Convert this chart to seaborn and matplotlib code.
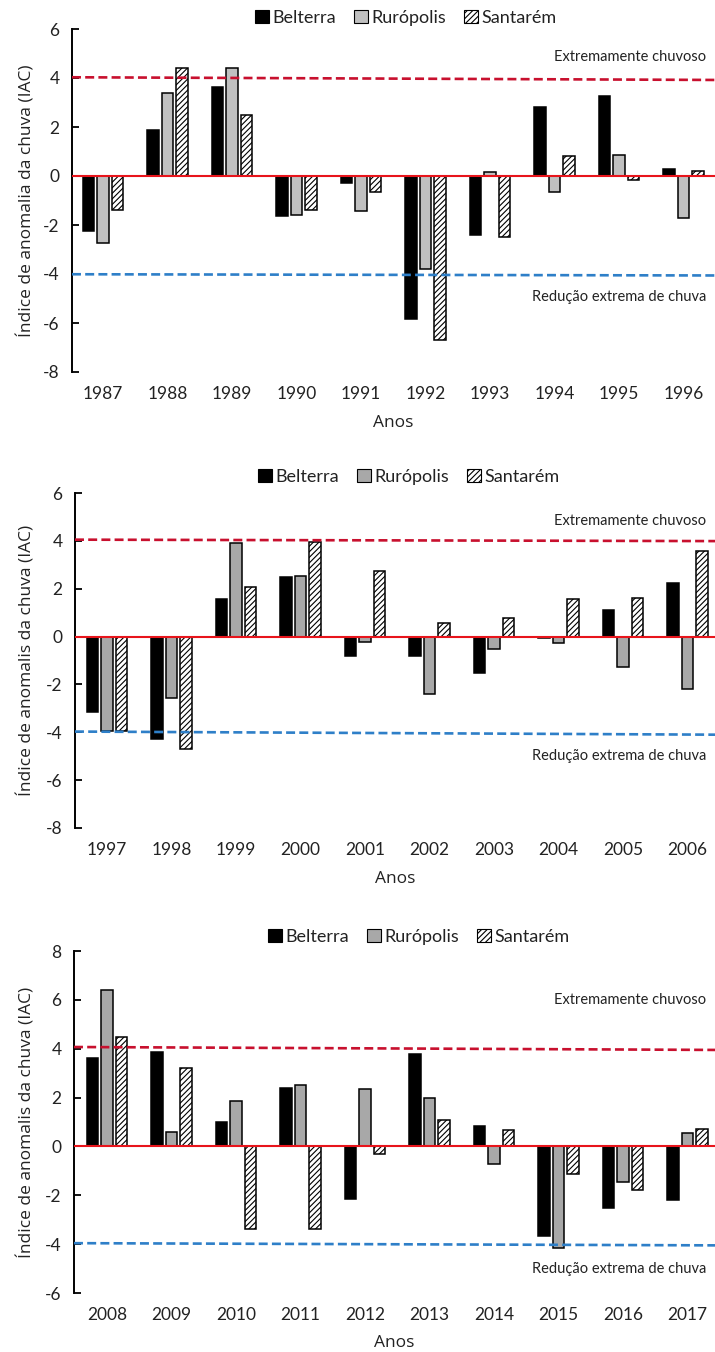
import numpy as np
import pandas as pd
import matplotlib
matplotlib.use("Agg")
import matplotlib.pyplot as plt
from matplotlib.patches import Patch
import seaborn as sns

# ---------------- data ----------------
estacoes = ["Belterra", "Rurópolis", "Santarém"]

anos_1 = ["1987", "1988", "1989", "1990", "1991", "1992", "1993", "1994", "1995", "1996"]
belterra_1 = [-2.25, 1.87, 3.65, -1.63, -0.30, -5.85, -2.40, 2.80, 3.25, 0.27]
ruropolis_1 = [-2.73, 3.38, 4.40, -1.58, -1.44, -3.81, 0.15, -0.64, 0.85, -1.70]
santarem_1 = [-1.38, 4.40, 2.48, -1.38, -0.64, -6.68, -2.47, 0.82, -0.18, 0.22]

anos_2 = ["1997", "1998", "1999", "2000", "2001", "2002", "2003", "2004", "2005", "2006"]
belterra_2 = [-3.16, -4.27, 1.58, 2.48, -0.83, -0.83, -1.52, -0.07, 1.09, 2.24]
ruropolis_2 = [-3.94, -2.56, 3.90, 2.55, -0.21, -2.41, -0.53, -0.28, -1.27, -2.20]
santarem_2 = [-3.94, -4.69, 2.06, 3.97, 2.76, 0.55, 0.77, 1.57, 1.61, 3.58]

anos_3 = ["2008", "2009", "2010", "2011", "2012", "2013", "2014", "2015", "2016", "2017"]
belterra_3 = [3.62, 3.85, 1.02, 2.39, -2.14, 3.77, 0.85, -3.67, -2.51, -2.21]
ruropolis_3 = [6.40, 0.58, 1.87, 2.50, 2.37, 1.98, -0.70, -4.16, -1.46, 0.57]
santarem_3 = [4.49, 3.23, -3.39, -3.39, -0.30, 1.08, 0.69, -1.12, -1.80, 0.73]

# reference lines (value at left end, value at right end), as drawn in the picture
extremo_chuvoso = [[4.03, 3.92], [4.05, 3.99], [4.07, 3.95]]
extremo_seco = [[-4.01, -4.06], [-3.97, -4.10], [-3.96, -4.05]]

ylabels = ["Índice de anomalia da chuva (IAC)",
           "Índice de anomalis da chuva (IAC)",
           "Índice de anomalis da chuva (IAC)"]
yticks = [[6, 4, 2, 0, -2, -4, -6, -8], [6, 4, 2, 0, -2, -4, -6, -8], [8, 6, 4, 2, 0, -2, -4, -6]]
ylims = [(-8, 6), (-8, 6), (-6, 8)]
label_chuvoso_y = [4.86, 4.85, 6.0]
label_seco_y = [-4.93, -5.0, -5.0]

panels = [
    (anos_1, belterra_1, ruropolis_1, santarem_1),
    (anos_2, belterra_2, ruropolis_2, santarem_2),
    (anos_3, belterra_3, ruropolis_3, santarem_3),
]

# ---------------- layout (pixels) ----------------
W, H = 715, 1352
layout = [
    dict(left=72, top=29, bottom=372, c0=103, legend_y=18, legend_x=406, anos_y=423, gray="#c0c0c0"),
    dict(left=75, top=493, bottom=828, c0=107, legend_y=477, legend_x=409, anos_y=879, gray="#a8a8a8"),
    dict(left=74, top=951, bottom=1293, c0=107, legend_y=937, legend_x=419, anos_y=1343, gray="#a8a8a8"),
]
spacing = 64.5

sns.set_theme(style="white")
plt.rcParams["font.family"] = ["Lato", "DejaVu Sans"]
plt.rcParams["hatch.linewidth"] = 0.8
plt.rcParams["hatch.color"] = "black"

fig = plt.figure(figsize=(W / 100, H / 100), dpi=100)

for i, (anos, b, r, s) in enumerate(panels):
    L = layout[i]
    ax = fig.add_axes([L["left"] / W, 1 - L["bottom"] / H, (W - L["left"]) / W,
                       (L["bottom"] - L["top"]) / H])
    df = pd.DataFrame({
        "Ano": anos * 3,
        "Estação": [estacoes[0]] * 10 + [estacoes[1]] * 10 + [estacoes[2]] * 10,
        "IAC": b + r + s,
    })
    pal = {"Belterra": "#000000", "Rurópolis": L["gray"], "Santarém": "#ffffff"}
    sns.barplot(data=df, x="Ano", y="IAC", hue="Estação", hue_order=estacoes,
                order=anos, palette=pal, width=0.675, gap=0.2, edgecolor="black",
                linewidth=1.1, errorbar=None, legend=False, ax=ax, saturation=1)
    for p in ax.containers[2]:
        p.set_hatch("//////")

    xmin = (L["left"] - L["c0"]) / spacing
    xmax = (W - L["c0"]) / spacing
    ax.set_xlim(xmin, xmax)
    ax.set_ylim(*ylims[i])
    ax.set_yticks(yticks[i])
    ax.set_yticklabels([str(t) for t in yticks[i]])

    ax.axhline(0, color="#e8141b", lw=1.5, zorder=3)
    ax.plot([xmin, xmax], extremo_chuvoso[i], color="#c8102e", lw=1.9,
            dashes=(3.4, 1.6), zorder=4, clip_on=False)
    ax.plot([xmin, xmax], extremo_seco[i], color="#2e7fc8", lw=1.9,
            dashes=(3.4, 1.6), zorder=4, clip_on=False)

    ax.text((706 - L["left"]) / (W - L["left"]), label_chuvoso_y[i], "Extremamente chuvoso",
            transform=ax.get_yaxis_transform(), ha="right", va="center", fontsize=10.5,
            color="#222222")
    ax.text((706 - L["left"]) / (W - L["left"]), label_seco_y[i], "Redução extrema de chuva",
            transform=ax.get_yaxis_transform(), ha="right", va="center", fontsize=10.5,
            color="#222222")

    for side in ["top", "right", "bottom"]:
        ax.spines[side].set_visible(False)
    ax.spines["left"].set_color("black")
    ax.spines["left"].set_linewidth(1.4)
    ax.tick_params(axis="y", direction="in", length=5, width=1.3, color="black",
                   labelsize=12.5, pad=9, left=True, labelcolor="#222222")
    ax.tick_params(axis="x", length=0, labelsize=12.5, pad=10, labelcolor="#222222")
    ax.set_xlabel("")
    ax.set_ylabel("")
    ax.grid(False)

    yc = (L["top"] + L["bottom"]) / 2
    fig.text(27 / W, 1 - yc / H, ylabels[i], rotation=90, ha="center", va="center",
             fontsize=12.5, family=["Open Sans", "DejaVu Sans"], color="#222222")
    fig.text((L["left"] + W) / 2 / W, 1 - L["anos_y"] / H, "Anos", ha="center", va="center",
             fontsize=12.5, family=["Open Sans", "DejaVu Sans"], color="#222222")

    handles = [Patch(facecolor="#000000", edgecolor="black", linewidth=0.8),
               Patch(facecolor=L["gray"], edgecolor="black", linewidth=0.8),
               Patch(facecolor="#ffffff", edgecolor="black", hatch="//////", linewidth=0.8)]
    fig.legend(handles, estacoes, loc="center",
               bbox_to_anchor=(L["legend_x"] / W, 1 - L["legend_y"] / H),
               ncol=3, frameon=False, fontsize=13, handlelength=0.75, handleheight=0.75,
               handletextpad=0.2, columnspacing=1.0, borderpad=0, labelcolor="#222222")

fig.savefig("out.png", dpi=100)
